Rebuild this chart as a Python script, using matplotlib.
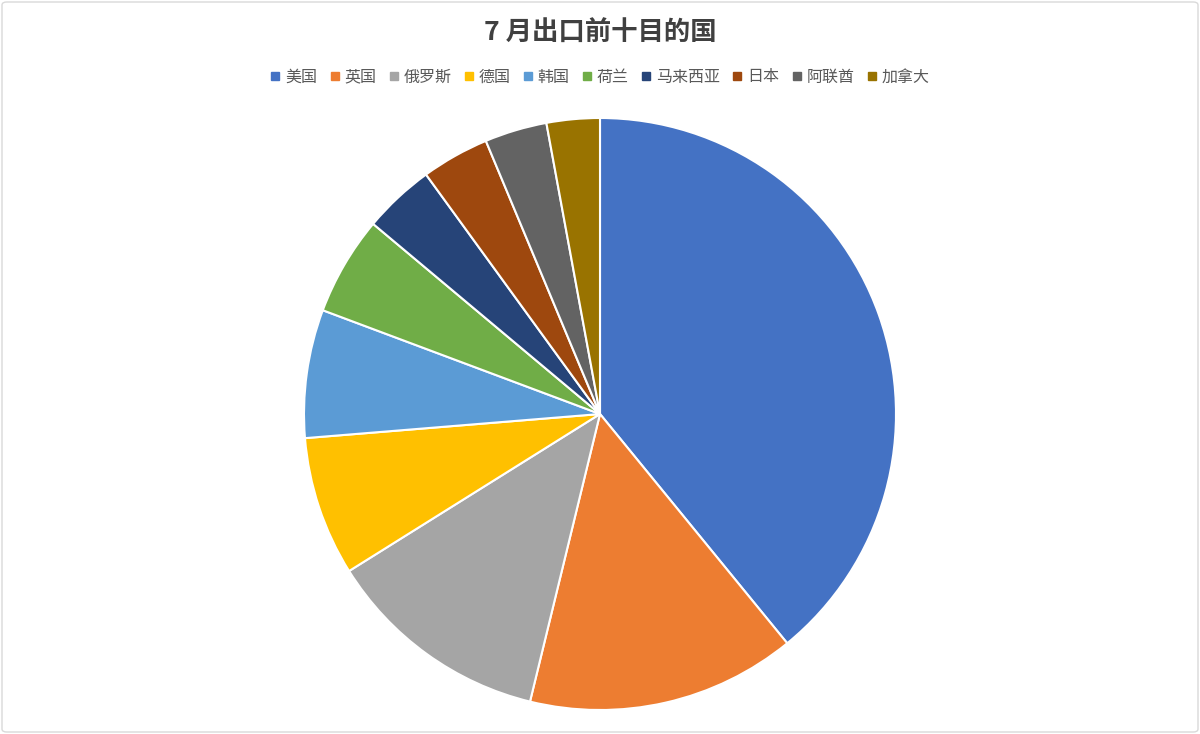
import matplotlib.pyplot as plt
from matplotlib.lines import Line2D
from matplotlib.patches import FancyBboxPatch

plt.rcParams['font.family'] = ['Noto Sans CJK SC', 'DejaVu Sans']

countries = ["美国", "英国", "俄罗斯", "德国", "韩国", "荷兰", "马来西亚", "日本", "阿联酋", "加拿大"]
shares = [39.1, 14.7, 12.3, 7.6, 7.0, 5.4, 3.9, 3.7, 3.4, 2.9]
colors = ["#4472C4", "#ED7D31", "#A5A5A5", "#FFC000", "#5B9BD5",
          "#70AD47", "#264478", "#9E480E", "#636363", "#997300"]

W, H = 1200, 734
fig = plt.figure(figsize=(W / 100, H / 100), dpi=100)

# frame
fig.patches.append(FancyBboxPatch((2 / W, 2 / H), 1 - 4 / W, 1 - 4 / H,
                                  boxstyle="round,pad=0,rounding_size=0.004",
                                  transform=fig.transFigure, facecolor="white",
                                  edgecolor="#D9D9D9", linewidth=1.0, zorder=-1))

cx, cy, r = 600, 734 - 414, 296
ax = fig.add_axes([(cx - r) / W, (cy - r) / H, 2 * r / W, 2 * r / H])
ax.pie(shares, colors=colors, startangle=90, counterclock=False,
       wedgeprops=dict(edgecolor="white", linewidth=1.5))
ax.set_xlim(-1, 1)
ax.set_ylim(-1, 1)
ax.set_aspect("equal")
ax.axis("off")

fig.text(0.5, 1 - 33 / H, "7 月出口前十目的国", ha="center", va="center",
         fontsize=19, fontweight="bold", color="#404040")

handles = [Line2D([0], [0], marker="s", linestyle="none", markersize=6,
                  markerfacecolor=c, markeredgecolor=c) for c in colors]
fig.legend(handles, countries, loc="center", bbox_to_anchor=(0.5, 1 - 77 / H),
           ncol=10, frameon=False, fontsize=11.5, handlelength=0.6,
           handletextpad=0.3, columnspacing=0.8, labelcolor="#595959")

fig.savefig("out.png", dpi=100, facecolor="white")
